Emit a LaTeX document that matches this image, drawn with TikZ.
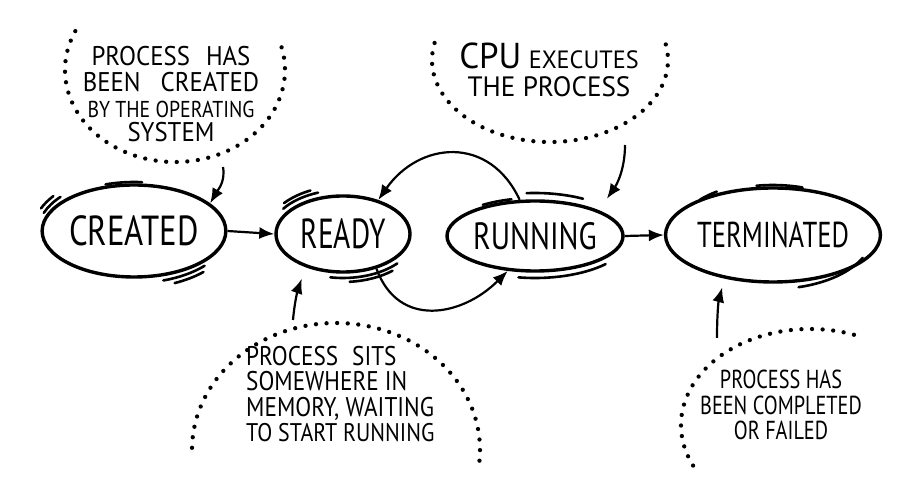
\documentclass[tikz,border=0pt]{standalone}
\usepackage{fontspec}
\setmainfont[FakeStretch=0.86]{PT Sans}
\newfontfamily\famA[FakeStretch=0.78]{PT Sans}
\newfontfamily\famB[FakeStretch=0.70]{PT Sans}
\newfontfamily\famC[FakeStretch=0.74]{PT Sans}
\newfontfamily\famD[FakeStretch=0.97]{PT Sans}
\newfontfamily\famE[FakeStretch=0.92]{PT Sans}
\usetikzlibrary{shapes.geometric,arrows.meta,calc}
\newcommand\fsz[1]{\fontsize{#1}{25.5}\selectfont}
\newcommand\handaccent[5]{\draw[accent] ($(#1.center)+(#2:#4pt and #5pt)$) arc[start angle=#2, end angle=#3, x radius=#4pt, y radius=#5pt];}
\begin{document}
\begin{tikzpicture}[x=1pt,y=1pt,
  state/.style={ellipse, draw, line width=3.4pt, inner sep=0pt},
  accent/.style={line width=2.6pt, line cap=round},
  link/.style={line width=2.2pt, -{Latex[length=15pt,width=12pt]}},
  dots/.style={line width=4.3pt, line cap=round, dash pattern=on 0pt off 10.6pt},
  note/.style={inner sep=0pt, align=center}]
\useasboundingbox (0,0) rectangle (907,487);

% states
\node[state, minimum width=178pt, minimum height=92pt, font=\famA\fsz{42}] (created) at (134,256) {CREATED};
\node[state, minimum width=134pt, minimum height=76pt, font=\famB\fsz{42}] (ready) at (343,253) {READY};
\node[state, minimum width=176pt, minimum height=70pt, font=\famA\fsz{38}] (running) at (535,251) {RUNNING};
\node[state, minimum width=184pt, minimum height=94pt, font=\famC\fsz{36}] (terminated) at (773,252) {TERMINATED};

% sketchy accents
\handaccent{created}{140}{160}{96}{53}
\handaccent{created}{143}{157}{101}{58}
\handaccent{created}{85}{108}{92}{49}
\handaccent{created}{-72}{-42}{95}{52}
\handaccent{created}{-66}{-46}{100}{57}
\handaccent{ready}{110}{145}{73}{44}
\handaccent{ready}{115}{140}{77}{48}
\handaccent{ready}{-100}{-42}{73}{44}
\handaccent{ready}{-85}{-50}{77}{48}
\handaccent{running}{60}{95}{96}{43}
\handaccent{running}{105}{125}{91}{38}
\handaccent{running}{-100}{-42}{95}{42}
\handaccent{terminated}{125}{138}{98}{53}
\handaccent{terminated}{72}{100}{95}{50}
\handaccent{terminated}{-75}{-25}{99}{54}

% notes
\node[note, font=\famE\fsz{27}] (tlnote) at (171,393) {PROCESS\hspace{16pt}HAS\\[0.5pt]BEEN\hspace{20pt}CREATED\\[0.5pt]{\rmfamily\fsz{23}BY THE OPERATING}\\[-1pt]SYSTEM};
\node[note, font=\famD\fsz{28}] (cpunote) at (549,417) {{\fontsize{36}{36}\selectfont CPU} {\fontsize{25}{25}\selectfont EXECUTES}\\[2pt]THE PROCESS};
\node[note, align=left, anchor=west, font=\fsz{27}] (readynote) at (246,93) {PROCESS\hspace{14pt}SITS\\SOMEWHERE IN\\MEMORY, WAITING\\{\fsz{25.5}TO START RUNNING}};
\node[note, font=\famA\fsz{26}] (termnote) at (781,82) {PROCESS HAS\\BEEN COMPLETED\\OR FAILED};

% dotted bubbles
\draw[dots] (175,417) ++(155:110pt and 92pt) arc[start angle=155, end angle=375, x radius=110pt, y radius=92pt];
\draw[dots] (550,427) ++(168:118pt and 82pt) arc[start angle=168, end angle=375, x radius=118pt, y radius=82pt];
\draw[dots] (336,37) ++(179:144pt and 127pt) arc[start angle=179, end angle=-6, x radius=144pt, y radius=127pt];
\draw[dots] (810,62) ++(205:129pt and 96pt) arc[start angle=205, end angle=66, x radius=129pt, y radius=96pt];

% free ends of the note arrows
\coordinate (tlfrom) at (223,320);
\coordinate (cpufrom) at (625,342);
\coordinate (readyfrom) at (293,167);
\coordinate (termfrom) at (717,149);

% connectors
\draw[link] (created.east) -- (ready.west);
\draw[link] (running.east) -- (terminated.west);
\draw[link] (running.113) to[out=115,in=55,looseness=1.3] (ready.44);
\draw[link] (ready.-46) to[out=-70,in=-135,looseness=1.25] (running.232);
\draw[link] (tlfrom) to[out=-80,in=60] (created.20);
\draw[link, shorten >=14pt] (cpufrom) to[out=-90,in=55] (running.22);
\draw[link, shorten >=12pt] (readyfrom) to[out=85,in=-110] (ready.222);
\draw[link, shorten >=9pt] (termfrom) to[out=90,in=-105] (terminated.222);
\end{tikzpicture}
\end{document}
